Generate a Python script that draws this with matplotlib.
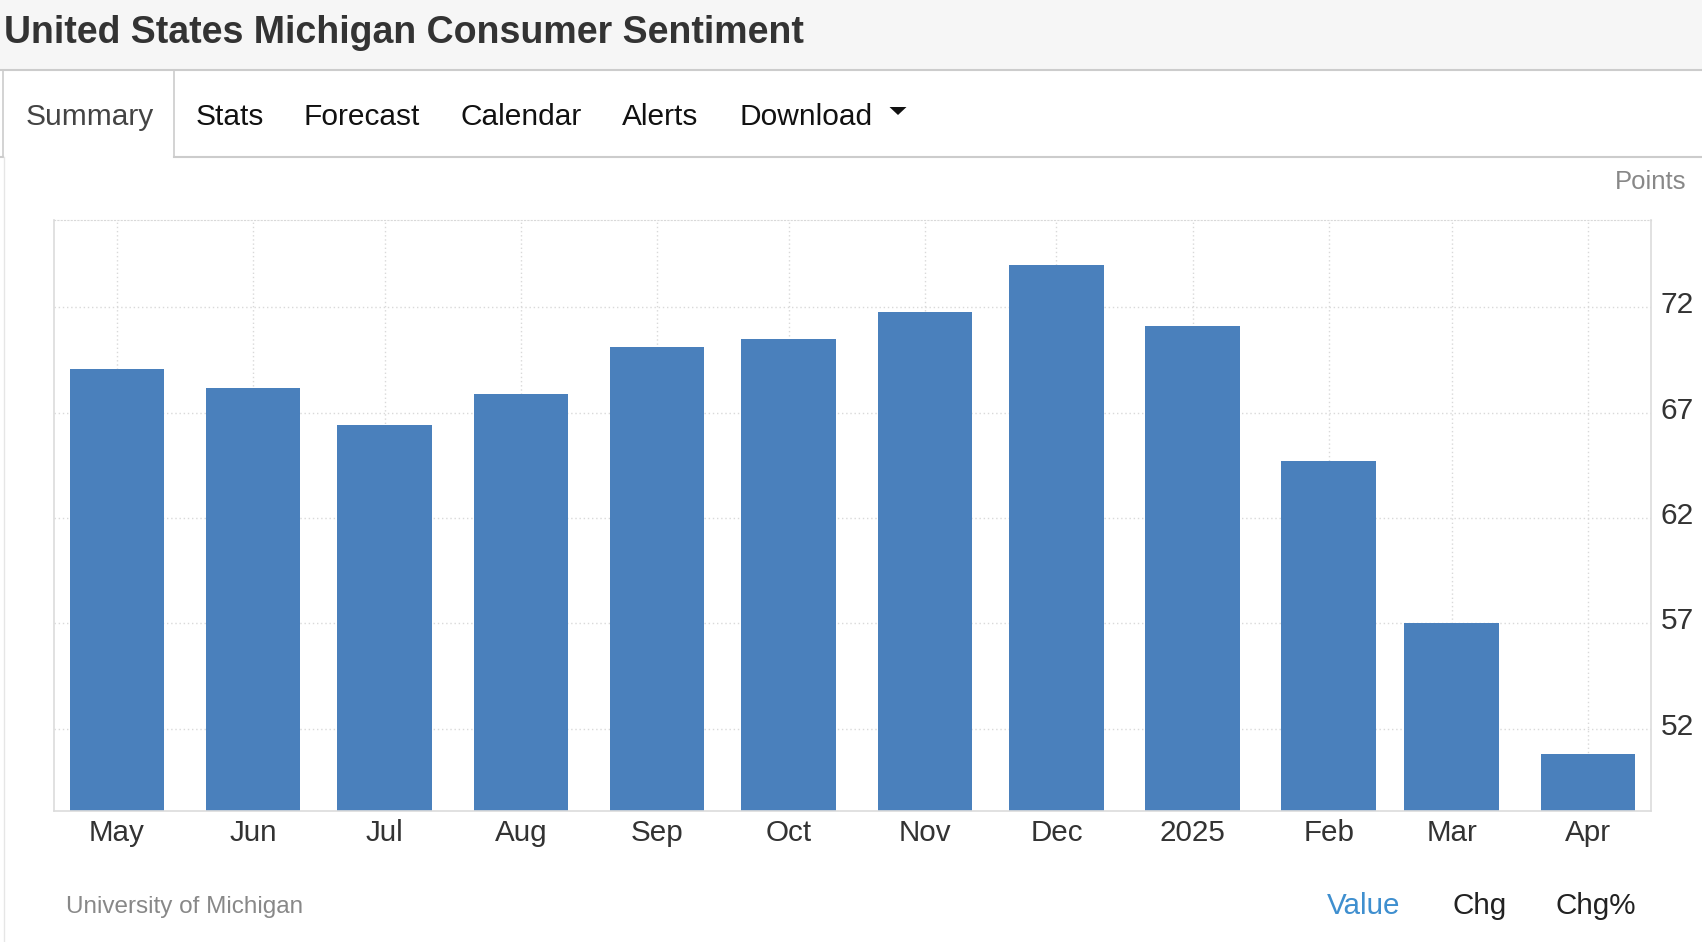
import datetime as dt
import matplotlib
matplotlib.use("Agg")
import matplotlib.pyplot as plt
from matplotlib.patches import Rectangle, Polygon
from matplotlib.transforms import ScaledTranslation

plt.rcParams['font.family'] = ['Liberation Sans', 'DejaVu Sans']

# data
month_starts = ['2024-05-01', '2024-06-01', '2024-07-01', '2024-08-01', '2024-09-01', '2024-10-01',
                '2024-11-01', '2024-12-01', '2025-01-01', '2025-02-01', '2025-03-01', '2025-04-01']
month_labels = ['May', 'Jun', 'Jul', 'Aug', 'Sep', 'Oct', 'Nov', 'Dec', '2025', 'Feb', 'Mar', 'Apr']
sentiment = [69.1, 68.2, 66.4, 67.9, 70.1, 70.5, 71.8, 74.0, 71.1, 64.7, 57.0, 50.8]
y_ticks = [52, 57, 62, 67, 72]
tabs = ['Summary', 'Stats', 'Forecast', 'Calendar', 'Alerts', 'Download']
footer_links = ['Value', 'Chg', 'Chg%']

W, H = 1702, 942
fig = plt.figure(figsize=(W / 100, H / 100), dpi=100)

# page furniture, drawn in pixel coordinates
bg = fig.add_axes([0, 0, 1, 1])
bg.set_xlim(0, W)
bg.set_ylim(H, 0)
bg.axis('off')
bg.add_patch(Rectangle((0, 0), W, 70, color='#f6f6f6', lw=0))
bg.plot([0, W], [70, 70], color='#cccccc', lw=1.5)
bg.text(4, 43, 'United States Michigan Consumer Sentiment', fontsize=27, fontweight='bold',
        color='#333333', va='baseline', ha='left')

# tab strip
bg.plot([3, 3], [70, 157], color='#cccccc', lw=1.2)
bg.plot([174, 174], [70, 157], color='#cccccc', lw=1.2)
bg.plot([0, 3], [157, 157], color='#cccccc', lw=1.5)
bg.plot([174, W], [157, 157], color='#cccccc', lw=1.5)
bg.plot([4, 4], [157, H], color='#e6e6e6', lw=1.0)
tab_x = [26, 196, 304, 460, 622, 739]
for i, (t, tx) in enumerate(zip(tabs, tab_x)):
    bg.text(tx, 125, t, fontsize=21.5, color='#444444' if i == 0 else '#111111',
            va='baseline', ha='left')
bg.add_patch(Polygon([[889.5, 107], [906.5, 107], [898, 115]], closed=True, color='#111111', lw=0))

bg.text(1686, 189, 'Points', fontsize=18.5, color='#888888', ha='right', va='baseline')
bg.text(66, 913, 'University of Michigan', fontsize=17.5, color='#888888', ha='left', va='baseline')
for lbl, cx in zip(footer_links, [1364, 1480, 1596]):
    bg.text(cx, 914, lbl, fontsize=21.3, ha='center', va='baseline',
            color='#3f8fcf' if lbl == 'Value' else '#222222')

# the chart
ax = fig.add_axes([54 / W, (H - 811) / H, (1651 - 54) / W, (811 - 220) / H])
x = [dt.datetime.fromisoformat(d) for d in month_starts]
ax.bar(x, sentiment, width=21.5, color='#4a80bc', zorder=2)
ax.set_xlim(x[0] - dt.timedelta(days=14.3), x[-1] + dt.timedelta(days=14.4))
ax.set_ylim(48.1, 76.15)

ax.set_xticks(x)
ax.set_xticklabels(month_labels)
ax.yaxis.tick_right()
ax.set_yticks(y_ticks)
ax.set_axisbelow(True)
ax.grid(True, linestyle=(0, (1, 2)), color='#d9d9d9', lw=1)
ax.tick_params(axis='x', length=0, pad=5.5, labelsize=21.3, labelcolor='#333333')
ax.tick_params(axis='y', length=0, pad=7, labelsize=21.5, labelcolor='#333333')
for lab in ax.get_yticklabels():
    lab.set_transform(lab.get_transform() + ScaledTranslation(0, 0.05, fig.dpi_scale_trans))

for side in ['left', 'right', 'bottom']:
    ax.spines[side].set_color('#dcdcdc')
    ax.spines[side].set_linewidth(1.2)
ax.spines['top'].set_color('#d9d9d9')
ax.spines['top'].set_linestyle((0, (1, 2)))

fig.savefig('out.png', dpi=100)
